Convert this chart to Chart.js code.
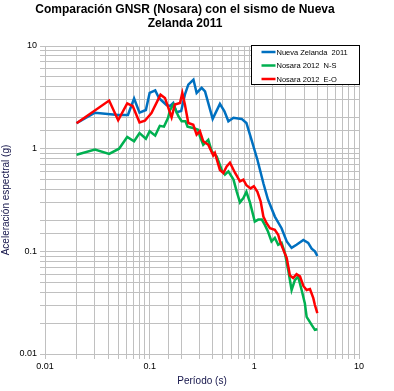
<!DOCTYPE html>
<html>
<head>
<meta charset="utf-8">
<script src="https://cdn.jsdelivr.net/npm/chart.js@4/dist/chart.umd.min.js"></script>
<style>
  html, body { margin: 0; padding: 0; background: #fff; }
  #wrap { width: 394px; height: 391px; }
</style>
</head>
<body>
<div id="wrap"><canvas id="chart" width="394" height="391"></canvas></div>
<script>
// Periods (s) and spectral accelerations (g)
const periodNZ = [0.02, 0.03, 0.05, 0.062, 0.071, 0.08, 0.092, 0.10, 0.113, 0.123, 0.145, 0.156, 0.168, 0.181, 0.20,
  0.217, 0.234, 0.262, 0.281, 0.314, 0.338, 0.40, 0.469, 0.518, 0.565, 0.632, 0.70, 0.757, 0.84, 0.94, 1.07,
  1.22, 1.35, 1.57, 1.82, 2.04, 2.27, 2.53, 2.94, 3.27, 3.53, 3.79, 4.0];
const accelNZ  = [1.77, 2.24, 2.13, 2.13, 3.08, 2.24, 2.38, 3.5, 3.7, 3.1, 2.66, 2.6, 2.79, 2.26, 2.33,
  3.36, 4.21, 4.71, 3.49, 3.91, 3.62, 1.95, 2.73, 2.31, 1.85, 2.0, 1.97, 1.95, 1.78, 1.22, 0.78,
  0.46, 0.32, 0.218, 0.168, 0.125, 0.108, 0.116, 0.129, 0.121, 0.106, 0.10, 0.09];

const periodNS = [0.02, 0.03, 0.041, 0.051, 0.061, 0.071, 0.08, 0.092, 0.10, 0.113, 0.125, 0.137, 0.15, 0.156,
  0.168, 0.188, 0.202, 0.22, 0.23, 0.26, 0.29, 0.302, 0.325, 0.363, 0.392, 0.437, 0.488, 0.524, 0.565,
  0.632, 0.68, 0.729, 0.786, 0.84, 0.908, 1.01, 1.09, 1.18, 1.26, 1.35, 1.46, 1.57, 1.69, 1.82, 1.96,
  2.11, 2.27, 2.44, 2.62, 2.83, 3.04, 3.16, 3.53, 3.79, 4.0];
const accelNS  = [0.874, 0.98, 0.89, 1.0, 1.30, 1.18, 1.42, 1.25, 1.48, 1.34, 1.67, 1.64, 2.0, 2.36,
  2.69, 2.07, 1.85, 1.85, 1.64, 1.59, 1.53, 1.32, 1.09, 1.22, 0.94, 0.84, 0.62, 0.56, 0.60,
  0.50, 0.38, 0.30, 0.33, 0.38, 0.30, 0.195, 0.204, 0.204, 0.181, 0.156, 0.125, 0.135, 0.116, 0.121, 0.096,
  0.065, 0.042, 0.0525, 0.057, 0.042, 0.031, 0.023, 0.0192, 0.0172, 0.0174];

const periodEO = [0.02, 0.041, 0.05, 0.061, 0.069, 0.08, 0.09, 0.104, 0.127, 0.14, 0.162, 0.174, 0.195, 0.205,
  0.217, 0.234, 0.261, 0.281, 0.302, 0.325, 0.363, 0.405, 0.42, 0.469, 0.506, 0.544, 0.585, 0.655, 0.729,
  0.786, 0.84, 0.92, 0.99, 1.07, 1.15, 1.22, 1.31, 1.41, 1.57, 1.69, 1.76, 1.89, 2.04, 2.19, 2.35, 2.53,
  2.73, 2.94, 3.16, 3.4, 3.66, 3.79, 4.0];
const accelEO  = [1.77, 2.94, 1.89, 2.76, 2.59, 1.8, 1.87, 2.22, 3.36, 3.12, 2.02, 2.69, 2.79, 3.49,
  2.69, 1.78, 1.71, 1.37, 1.48, 1.18, 1.09, 0.86, 0.91, 0.62, 0.58, 0.67, 0.73, 0.58, 0.48,
  0.50, 0.44, 0.41, 0.43, 0.38, 0.306, 0.218, 0.188, 0.168, 0.162, 0.145, 0.125, 0.104, 0.086, 0.058, 0.055, 0.06,
  0.057, 0.046, 0.042, 0.043, 0.035, 0.030, 0.025];

const titleLines  = ['Comparación GNSR (Nosara) con el sismo de Nueva', 'Zelanda 2011'];
const seriesNames = ['Nueva Zelanda  2011', 'Nosara 2012  N-S', 'Nosara 2012  E-O'];
const seriesCols  = ['#0070C0', '#00B050', '#FF0000'];

const FONT  = 'Arial, "Liberation Sans", sans-serif';
const GRID  = '#c0c0c0';
const LABEL = '#14144a';

const toPoints = (xs, ys) => xs.map((x, i) => ({ x, y: ys[i] }));

// only label whole decades, keep minor grid lines
function decadeLabel(v) {
  const l = Math.log10(v);
  const r = Math.round(l);
  if (Math.abs(l - r) > 1e-6) return '';
  return Math.pow(10, r).toFixed(Math.max(0, -r));
}

const titlePlugin = {
  id: 'twoLineTitle',
  afterDraw(chart) {
    const ctx = chart.ctx;
    ctx.save();
    ctx.font = 'bold 12px ' + FONT;
    ctx.fillStyle = '#000';
    ctx.textAlign = 'center';
    ctx.textBaseline = 'alphabetic';
    ctx.fillText(titleLines[0], 185, 13);
    ctx.fillText(titleLines[1], 185, 27);
    ctx.restore();
  },
};

const boxLegend = {
  id: 'boxLegend',
  afterDraw(chart) {
    const ctx = chart.ctx;
    const area = chart.chartArea;
    const w = 108, h = 39;
    const left = area.right - w + 0.5, top = area.top - 0.5;
    ctx.save();
    ctx.fillStyle = '#fff';
    ctx.fillRect(left, top, w, h);
    ctx.strokeStyle = '#000';
    ctx.lineWidth = 1;
    ctx.strokeRect(left, top, w, h);
    ctx.font = '7.5px ' + FONT;
    ctx.textBaseline = 'middle';
    ctx.textAlign = 'left';
    chart.data.datasets.forEach((ds, i) => {
      const y = top + 6.5 + i * 13.5;
      ctx.strokeStyle = ds.borderColor;
      ctx.lineWidth = 2.5;
      ctx.beginPath();
      ctx.moveTo(left + 10, y);
      ctx.lineTo(left + 24, y);
      ctx.stroke();
      ctx.fillStyle = '#000';
      ctx.fillText(ds.label, left + 25, y + 0.5);
    });
    ctx.restore();
  },
};

const axisBase = {
  type: 'logarithmic',
  min: 0.01,
  max: 10,
  grid:   { color: GRID, lineWidth: 1, tickLength: 5 },
  border: { color: GRID },
  ticks: {
    autoSkip: false,
    maxRotation: 0,
    color: '#000',
    font: { family: FONT, size: 9 },
    callback: decadeLabel,
  },
};

new Chart(document.getElementById('chart'), {
  type: 'scatter',
  plugins: [titlePlugin, boxLegend],
  data: {
    datasets: [
      { label: seriesNames[0], data: toPoints(periodNZ, accelNZ), borderColor: seriesCols[0], order: 2 },
      { label: seriesNames[1], data: toPoints(periodNS, accelNS), borderColor: seriesCols[1], order: 1 },
      { label: seriesNames[2], data: toPoints(periodEO, accelEO), borderColor: seriesCols[2], order: 0 },
    ].map(ds => Object.assign(ds, {
      showLine: true,
      borderWidth: 2.5,
      pointRadius: 0,
      pointHoverRadius: 0,
      tension: 0,
      backgroundColor: ds.borderColor,
    })),
  },
  options: {
    responsive: false,
    animation: false,
    layout: { padding: { top: 46, right: 35, bottom: 0, left: 0 } },
    scales: {
      x: Object.assign({}, axisBase, {
        position: 'bottom',
        afterFit: s => { s.height = 37; },
        ticks: Object.assign({}, axisBase.ticks, { padding: 2 }),
        title: { display: true, text: 'Período (s)', color: LABEL, font: { family: FONT, size: 10 }, padding: { top: 0, bottom: 4 } },
      }),
      y: Object.assign({}, axisBase, {
        position: 'left',
        afterFit: s => { s.width = 45; },
        ticks: Object.assign({}, axisBase.ticks, { padding: 3 }),
        title: { display: true, text: 'Aceleración espectral (g)', color: LABEL, font: { family: FONT, size: 10 }, padding: { top: 0, bottom: 0 } },
      }),
    },
    plugins: {
      legend:  { display: false },
      tooltip: { enabled: false },
    },
  },
});
</script>
</body>
</html>
